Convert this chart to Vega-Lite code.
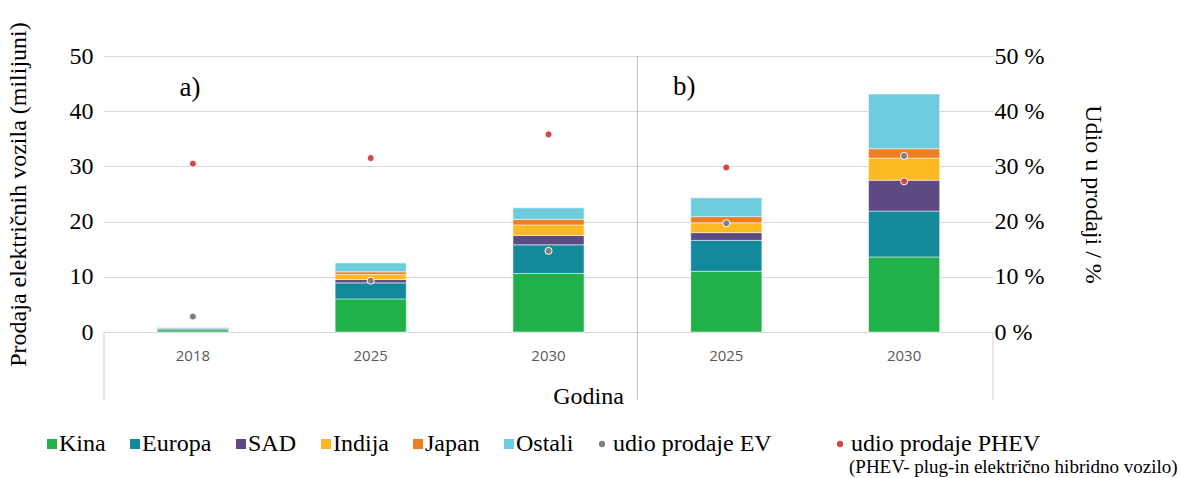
{
  "$schema": "https://vega.github.io/schema/vega-lite/v6.json",
  "autosize": "none",
  "width": 889,
  "height": 276,
  "padding": {"left": 104, "top": 56, "right": 188, "bottom": 146},
  "background": "white",
  "config": {"view": {"stroke": null}, "font": "Liberation Serif"},
  "title": {
    "text": "(PHEV- plug-in električno hibridno vozilo)",
    "orient": "top", "anchor": "start", "frame": "group",
    "font": "Liberation Serif", "fontSize": 19, "fontWeight": "normal", "color": "black",
    "baseline": "alphabetic", "offset": 0, "dx": 745, "dy": 470
  },
  "datasets": {
    "sales": [
      {"kat": "a-2018", "regija": "Kina", "red": 1, "prodaja": 0.4},
      {"kat": "a-2018", "regija": "Europa", "red": 2, "prodaja": 0.25},
      {"kat": "a-2018", "regija": "SAD", "red": 3, "prodaja": 0.12},
      {"kat": "a-2018", "regija": "Indija", "red": 4, "prodaja": 0.02},
      {"kat": "a-2018", "regija": "Japan", "red": 5, "prodaja": 0.05},
      {"kat": "a-2018", "regija": "Ostali", "red": 6, "prodaja": 0.06},
      {"kat": "a-2025", "regija": "Kina", "red": 1, "prodaja": 6.0},
      {"kat": "a-2025", "regija": "Europa", "red": 2, "prodaja": 2.9},
      {"kat": "a-2025", "regija": "SAD", "red": 3, "prodaja": 0.6},
      {"kat": "a-2025", "regija": "Indija", "red": 4, "prodaja": 0.9},
      {"kat": "a-2025", "regija": "Japan", "red": 5, "prodaja": 0.5},
      {"kat": "a-2025", "regija": "Ostali", "red": 6, "prodaja": 1.6},
      {"kat": "a-2030", "regija": "Kina", "red": 1, "prodaja": 10.6},
      {"kat": "a-2030", "regija": "Europa", "red": 2, "prodaja": 5.2},
      {"kat": "a-2030", "regija": "SAD", "red": 3, "prodaja": 1.7},
      {"kat": "a-2030", "regija": "Indija", "red": 4, "prodaja": 1.9},
      {"kat": "a-2030", "regija": "Japan", "red": 5, "prodaja": 1.0},
      {"kat": "a-2030", "regija": "Ostali", "red": 6, "prodaja": 2.1},
      {"kat": "b-2025", "regija": "Kina", "red": 1, "prodaja": 11.0},
      {"kat": "b-2025", "regija": "Europa", "red": 2, "prodaja": 5.6},
      {"kat": "b-2025", "regija": "SAD", "red": 3, "prodaja": 1.4},
      {"kat": "b-2025", "regija": "Indija", "red": 4, "prodaja": 1.8},
      {"kat": "b-2025", "regija": "Japan", "red": 5, "prodaja": 1.1},
      {"kat": "b-2025", "regija": "Ostali", "red": 6, "prodaja": 3.4},
      {"kat": "b-2030", "regija": "Kina", "red": 1, "prodaja": 13.6},
      {"kat": "b-2030", "regija": "Europa", "red": 2, "prodaja": 8.3},
      {"kat": "b-2030", "regija": "SAD", "red": 3, "prodaja": 5.6},
      {"kat": "b-2030", "regija": "Indija", "red": 4, "prodaja": 4.0},
      {"kat": "b-2030", "regija": "Japan", "red": 5, "prodaja": 1.7},
      {"kat": "b-2030", "regija": "Ostali", "red": 6, "prodaja": 9.9}
    ],
    "shares": [
      {"kat": "a-2018", "serija": "udio prodaje EV", "udio": 2.8},
      {"kat": "a-2018", "serija": "udio prodaje PHEV", "udio": 30.5},
      {"kat": "a-2025", "serija": "udio prodaje EV", "udio": 9.3},
      {"kat": "a-2025", "serija": "udio prodaje PHEV", "udio": 31.5},
      {"kat": "a-2030", "serija": "udio prodaje EV", "udio": 14.7},
      {"kat": "a-2030", "serija": "udio prodaje PHEV", "udio": 35.8},
      {"kat": "b-2025", "serija": "udio prodaje EV", "udio": 19.7},
      {"kat": "b-2025", "serija": "udio prodaje PHEV", "udio": 29.8},
      {"kat": "b-2030", "serija": "udio prodaje EV", "udio": 31.9},
      {"kat": "b-2030", "serija": "udio prodaje PHEV", "udio": 27.3}
    ]
  },
  "layer": [
    {
      "layer": [
        {
          "data": {"name": "sales"},
          "mark": {"type": "bar", "width": {"band": 0.4}, "stroke": "white", "strokeWidth": 0.5},
          "encoding": {
            "x": {
              "field": "kat", "type": "nominal",
              "scale": {"domain": ["a-2018", "a-2025", "a-2030", "b-2025", "b-2030"], "paddingInner": 0, "paddingOuter": 0},
              "axis": {
                "title": "Godina", "labelExpr": "substring(datum.label, 2)", "labelAngle": 0,
                "labelFont": "Open Sans", "labelFontSize": 15, "labelColor": "#595959", "labelPadding": 16,
                "ticks": false, "tickSize": 0, "domainColor": "#d9d9d9", "domainWidth": 1, "grid": false,
                "titleFont": "Liberation Serif", "titleFontSize": 24, "titleFontWeight": "normal", "titleColor": "black",
                "titleX": 484, "titleY": 71, "titleBaseline": "alphabetic"
              }
            },
            "y": {
              "field": "prodaja", "type": "quantitative", "stack": "zero",
              "scale": {"domain": [0, 50], "nice": false},
              "axis": {
                "orient": "left", "values": [0, 10, 20, 30, 40, 50], "grid": true, "gridColor": "#d9d9d9", "gridWidth": 1,
                "domain": false, "ticks": false, "labelFont": "Liberation Serif", "labelFontSize": 24, "labelColor": "black",
                "labelPadding": 11, "title": "Prodaja električnih vozila (milijuni)", "titleFont": "Liberation Serif",
                "titleFontSize": 24, "titleFontWeight": "normal", "titleColor": "black", "titlePadding": 39
              }
            },
            "order": {"field": "red", "type": "quantitative"},
            "fill": {
              "field": "regija", "type": "nominal",
              "scale": {
                "domain": ["Kina", "Europa", "SAD", "Indija", "Japan", "Ostali"],
                "range": ["#21b14b", "#138a9b", "#5d4a82", "#fcb922", "#ee7e24", "#6ecddd"]
              },
              "legend": {
                "orient": "none", "legendX": -64, "legendY": 376, "direction": "horizontal", "columns": 6,
                "title": null, "padding": 0, "labelFont": "Liberation Serif", "labelFontSize": 24, "labelColor": "black",
                "labelOffset": -5, "columnPadding": 17, "symbolType": "square", "symbolSize": 100,
                "symbolStrokeWidth": 0, "labelLimit": 500
              }
            }
          }
        },
        {
          "data": {"values": [{}]},
          "mark": {"type": "rule", "color": "#bfbfbf", "strokeWidth": 1},
          "encoding": {"x": {"datum": "b-2025", "bandPosition": 0}, "y": {"datum": 50}, "y2": {"datum": -12.3}}
        },
        {
          "data": {"values": [{}]},
          "mark": {"type": "rule", "color": "#d0d0d0", "strokeWidth": 1},
          "encoding": {"x": {"datum": "a-2018", "bandPosition": 0}, "y": {"datum": 0}, "y2": {"datum": -12.3}}
        },
        {
          "data": {"values": [{}]},
          "mark": {"type": "rule", "color": "#d0d0d0", "strokeWidth": 1},
          "encoding": {"x": {"datum": "b-2030", "bandPosition": 1}, "y": {"datum": 0}, "y2": {"datum": -12.3}}
        },
        {
          "data": {"values": [{}]},
          "mark": {"type": "text", "font": "Liberation Serif", "fontSize": 27, "baseline": "alphabetic", "align": "center", "dx": -3, "color": "black"},
          "encoding": {"x": {"datum": "a-2018"}, "y": {"datum": 42.8}, "text": {"value": "a)"}}
        },
        {
          "data": {"values": [{}]},
          "mark": {"type": "text", "font": "Liberation Serif", "fontSize": 27, "baseline": "alphabetic", "align": "center", "dx": -42, "color": "black"},
          "encoding": {"x": {"datum": "b-2025"}, "y": {"datum": 42.9}, "text": {"value": "b)"}}
        }
      ]
    },
    {
      "data": {"name": "shares"},
      "mark": {"type": "point", "filled": true, "size": 50, "stroke": "white", "strokeWidth": 1, "opacity": 1},
      "encoding": {
        "x": {"field": "kat", "type": "nominal"},
        "y": {
          "field": "udio", "type": "quantitative",
          "scale": {"domain": [0, 50], "nice": false},
          "axis": {
            "orient": "right", "values": [0, 10, 20, 30, 40, 50], "labelExpr": "datum.value + ' %'",
            "grid": false, "domain": false, "ticks": false, "labelPadding": 1,
            "labelFont": "Liberation Serif", "labelFontSize": 24, "labelColor": "black",
            "title": "Udio u prodaji / %", "titleFont": "Liberation Serif", "titleFontSize": 24,
            "titleFontWeight": "normal", "titleColor": "black", "titlePadding": 37
          }
        },
        "color": {
          "field": "serija", "type": "nominal",
          "scale": {"domain": ["udio prodaje EV", "udio prodaje PHEV"], "range": ["#7f7f7f", "#d64545"]},
          "legend": {
            "orient": "none", "legendX": 486, "legendY": 376, "direction": "horizontal", "columns": 2,
            "title": null, "padding": 0, "labelFont": "Liberation Serif", "labelFontSize": 24, "labelColor": "black",
            "labelOffset": -1, "columnPadding": 56, "symbolType": "circle", "symbolSize": 40,
            "symbolStrokeWidth": 0, "labelLimit": 500
          }
        }
      }
    }
  ],
  "resolve": {"scale": {"y": "independent"}, "axis": {"y": "independent"}}
}
